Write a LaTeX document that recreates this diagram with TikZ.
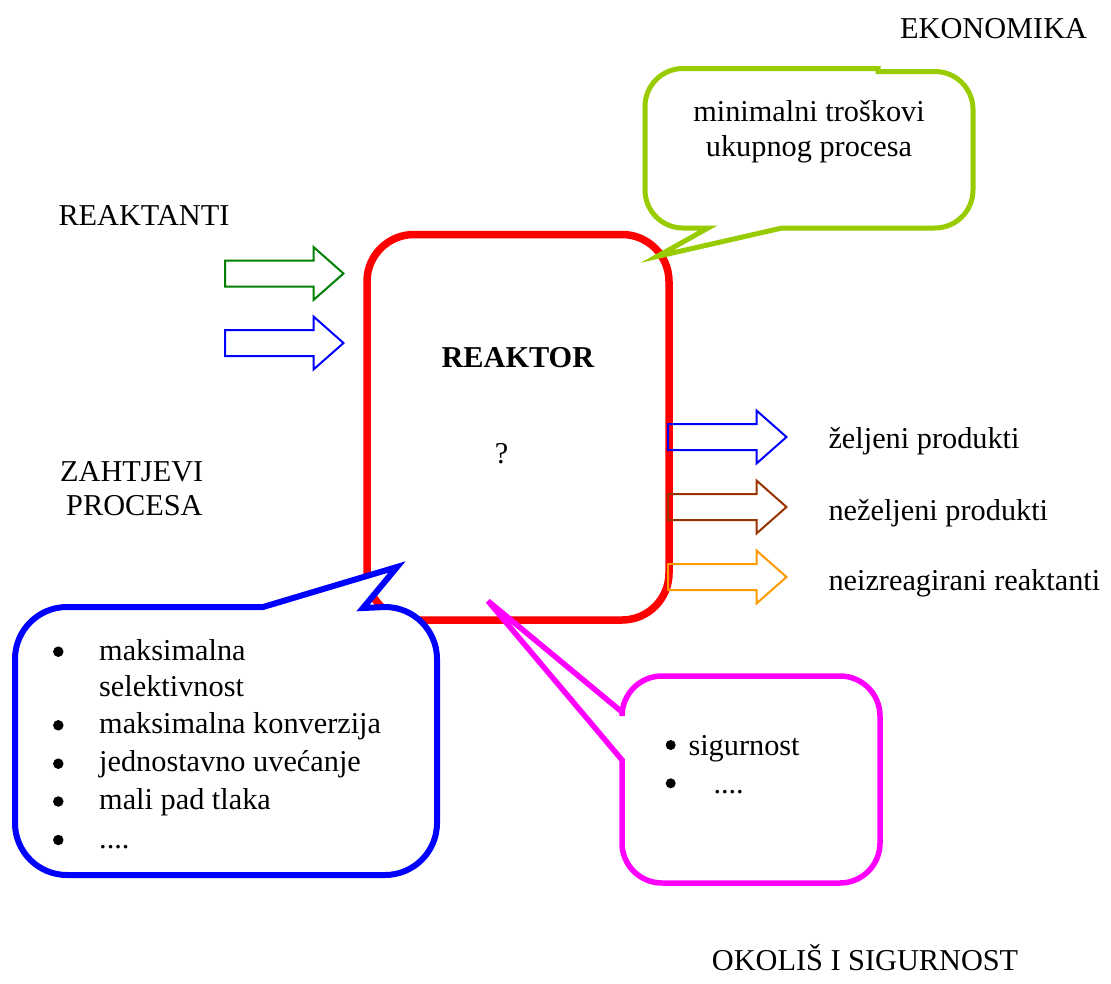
\documentclass[tikz,border=0pt]{standalone}
\usepackage{fontspec}
\setmainfont{Liberation Serif}
\definecolor{redbox}{RGB}{255,0,0}
\definecolor{limeg}{RGB}{153,204,0}
\definecolor{darkg}{RGB}{0,128,0}
\definecolor{blueC}{RGB}{0,0,255}
\definecolor{magC}{RGB}{255,0,255}
\definecolor{brownA}{RGB}{153,51,0}
\definecolor{orangeA}{RGB}{255,153,0}
\begin{document}
\begin{tikzpicture}[x=1pt,y=1pt,
  txt/.style={inner sep=0pt, anchor=base west, font=\fontsize{30.3}{37.6}\selectfont},
  ctxt/.style={txt, anchor=base},
  bul/.style={circle, fill=black, inner sep=0pt, minimum size=10.5pt},
  barrowstyle/.style={line width=2pt, miter limit=10},
  callout/.style={fill=white, line join=miter, miter limit=10},
  barrow/.pic={\draw[pic actions] (0,13) -- (88.5,13) -- (88.5,26.5) -- (118.5,0) -- (88.5,-26.5) -- (88.5,-13) -- (0,-13) -- cycle;}
]
\useasboundingbox (0,0) rectangle (1111,-983);

% reactor box
\draw[redbox, line width=7.5pt, rounded corners=47pt] (367,-234.5) rectangle (669,-620);
\node[ctxt] (reaktor) at (518,-367.3) {\textbf{REAKTOR}};
\node[ctxt] (q) at (501.7,-463.3) {?};

% input arrows
\pic[draw=darkg, barrowstyle] at (225,-273.5) {barrow};
\pic[draw=blueC, barrowstyle] at (225,-343) {barrow};
% output arrows
\pic[draw=blueC, barrowstyle] at (668,-437) {barrow};
\pic[draw=brownA, barrowstyle] at (668,-507) {barrow};
\pic[draw=orangeA, barrowstyle] at (668,-577) {barrow};

% labels
\node[txt] (ekon) at (900,-38.3) {EKONOMIKA};
\node[txt] (reakt) at (58.3,-225.7) {REAKTANTI};
\node[txt] (zaht) at (60,-481.7) {ZAHTJEVI};
\node[txt] (proc) at (66,-515) {PROCESA};
\node[txt] (zp) at (828.3,-448.3) {željeni produkti};
\node[txt] (np) at (828.3,-520) {neželjeni produkti};
\node[txt] (nr) at (828.3,-590) {neizreagirani reaktanti};
\node[txt] (okolis) at (711.7,-970) {OKOLIŠ I SIGURNOST};

% green callout
\draw[callout, draw=limeg, line width=5pt]
  (683,-68.5) -- (878,-68.5) -- (878,-71.5) -- (935,-71.5)
  arc[start angle=90, end angle=0, radius=38] -- (973,-190)
  arc[start angle=0, end angle=-90, radius=38] -- (782,-228) -- (657,-256.5) -- (708,-228) -- (683,-228)
  arc[start angle=270, end angle=180, radius=38] -- (645,-106.5)
  arc[start angle=180, end angle=90, radius=38] -- cycle;
\node[ctxt] (g1) at (809,-121.7) {minimalni troškovi};
\node[ctxt] (g2) at (809,-156.7) {ukupnog procesa};

% blue callout
\draw[callout, draw=blueC, line width=6pt]
  (67,-607) -- (263,-607) -- (397,-567) -- (363,-608) -- (385,-607)
  arc[start angle=90, end angle=0, radius=52] -- (437,-823)
  arc[start angle=0, end angle=-90, radius=52] -- (67,-875)
  arc[start angle=270, end angle=180, radius=52] -- (15,-659)
  arc[start angle=180, end angle=90, radius=52] -- cycle;
\node[bul] (b1) at (58.3,-651.7) {};
\node[txt] (t1) at (99,-660) {maksimalna};
\node[txt] (t1b) at (99,-696.7) {selektivnost};
\node[bul] (b2) at (58.3,-725.3) {};
\node[txt] (t2) at (99,-733.3) {maksimalna konverzija};
\node[bul] (b3) at (58.3,-763.7) {};
\node[txt] (t3) at (99,-771.7) {jednostavno uvećanje};
\node[bul] (b4) at (58.3,-801.5) {};
\node[txt] (t4) at (99,-809.3) {mali pad tlaka};
\node[bul] (b5) at (58.3,-840) {};
\node[txt] (t5) at (99,-848) {....};

% magenta callout
\draw[callout, draw=magC, line width=5.5pt]
  (662,-676) -- (840,-676)
  arc[start angle=90, end angle=0, radius=40] -- (880,-843)
  arc[start angle=0, end angle=-90, radius=40] -- (662,-883)
  arc[start angle=270, end angle=180, radius=40] -- (622,-760) -- (488,-601) -- (622,-712) -- (622,-716)
  arc[start angle=180, end angle=90, radius=40] -- cycle;
\node[bul, minimum size=10pt] (m1) at (670.7,-745) {};
\node[txt] (mt1) at (688.3,-755) {sigurnost};
\node[bul, minimum size=10pt] (m2) at (670.7,-783.3) {};
\node[txt] (mt2) at (713.3,-793.3) {....};
\end{tikzpicture}
\end{document}
